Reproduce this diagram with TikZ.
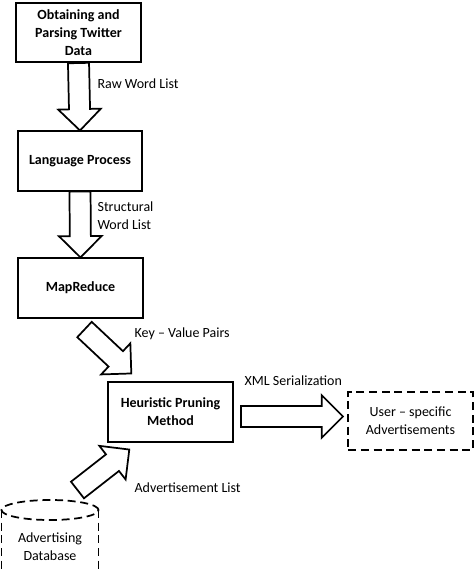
\documentclass[tikz,border=0pt]{standalone}
\usepackage{fontspec}
\setmainfont{Carlito}
\usepackage{tikz}
\usetikzlibrary{calc}

\begin{document}
\begin{tikzpicture}[x=0.75pt, y=-0.75pt,
    every node/.style={font=\fontsize{10.5}{13.5}\selectfont},
    stage/.style={draw, line width=1.3pt, minimum width=93.5pt, minimum height=44.5pt, align=center,
        font=\fontsize{10.5}{13.5}\selectfont\bfseries},
    outbox/.style={draw, line width=1.3pt, dash pattern=on 6pt off 3.5pt, minimum width=93.5pt,
        minimum height=43.5pt, align=center},
    dbline/.style={line width=1.3pt, dash pattern=on 6pt off 3.5pt},
    lbl/.style={anchor=west, inner sep=1pt, align=left},
    fat/.style={line width=1.3pt, line join=miter, to path={
        ($(\tikztotarget)!16pt!(\tikztostart)$) coordinate (hb)
        ($(\tikztostart)!7.9pt!90:(\tikztotarget)$) -- ($(hb)!7.9pt!-90:(\tikztostart)$)
        -- ($(hb)!16pt!-90:(\tikztostart)$) -- (\tikztotarget)
        -- ($(hb)!16pt!90:(\tikztostart)$) -- ($(hb)!7.9pt!90:(\tikztostart)$)
        -- ($(\tikztostart)!7.9pt!-90:(\tikztotarget)$) -- cycle}}
]
    % Page
    \fill[white] (0,0) rectangle (474,571);
    \useasboundingbox (0,0) rectangle (474,571);
    \clip (0,0) rectangle (474,571);

    % Stages
    \node[stage] (src) at (78.5,32.5) {Obtaining and\\Parsing Twitter\\Data};
    \node[stage] (lang) at (80,161) {Language Process};
    \node[stage] (mapr) at (80.5,288) {MapReduce};
    \node[stage] (prune) at (170.5,412) {Heuristic Pruning\\Method};
    \node[outbox] (user) at (410.5,421) {User -- specific\\Advertisements};

    % Database
    \node[align=center] (db) at (50,547) {Advertising\\Database};
    \draw[dbline] (50,510) ellipse [x radius=36.4pt, y radius=7.5pt];
    \draw[dbline] (1.5,510) -- (1.5,585);
    \draw[dbline] (98.5,510) -- (98.5,585);

    % Free ends of the slanted arrows
    \coordinate (kvtail) at ($(mapr.south)+(4,11)$);
    \coordinate (kvtip) at ($(prune.north west)+(24,-8)$);
    \coordinate (adtail) at (77.5,490);
    \coordinate (adtip) at ($(prune.south west)+(22,7)$);
    \coordinate (xmltail) at (241,416.5);
    \coordinate (xmltip) at (343,416.5);

    % Flow
    \draw[fat] (src.south) to (lang.north);
    \draw[fat] (lang.south) to (mapr.north);
    \draw[fat] (kvtail) to (kvtip);
    \draw[fat] (adtail) to (adtip);
    \draw[fat] (xmltail) to (xmltip);

    % Labels
    \node[lbl] (raw) at (96,84) {Raw Word List};
    \node[lbl] (struct) at (96,216) {Structural\\Word List};
    \node[lbl] (kv) at (133,334) {Key -- Value Pairs};
    \node[lbl] (xml) at (243,381) {XML Serialization};
    \node[lbl] (adl) at (133,488) {Advertisement List};
\end{tikzpicture}
\end{document}
